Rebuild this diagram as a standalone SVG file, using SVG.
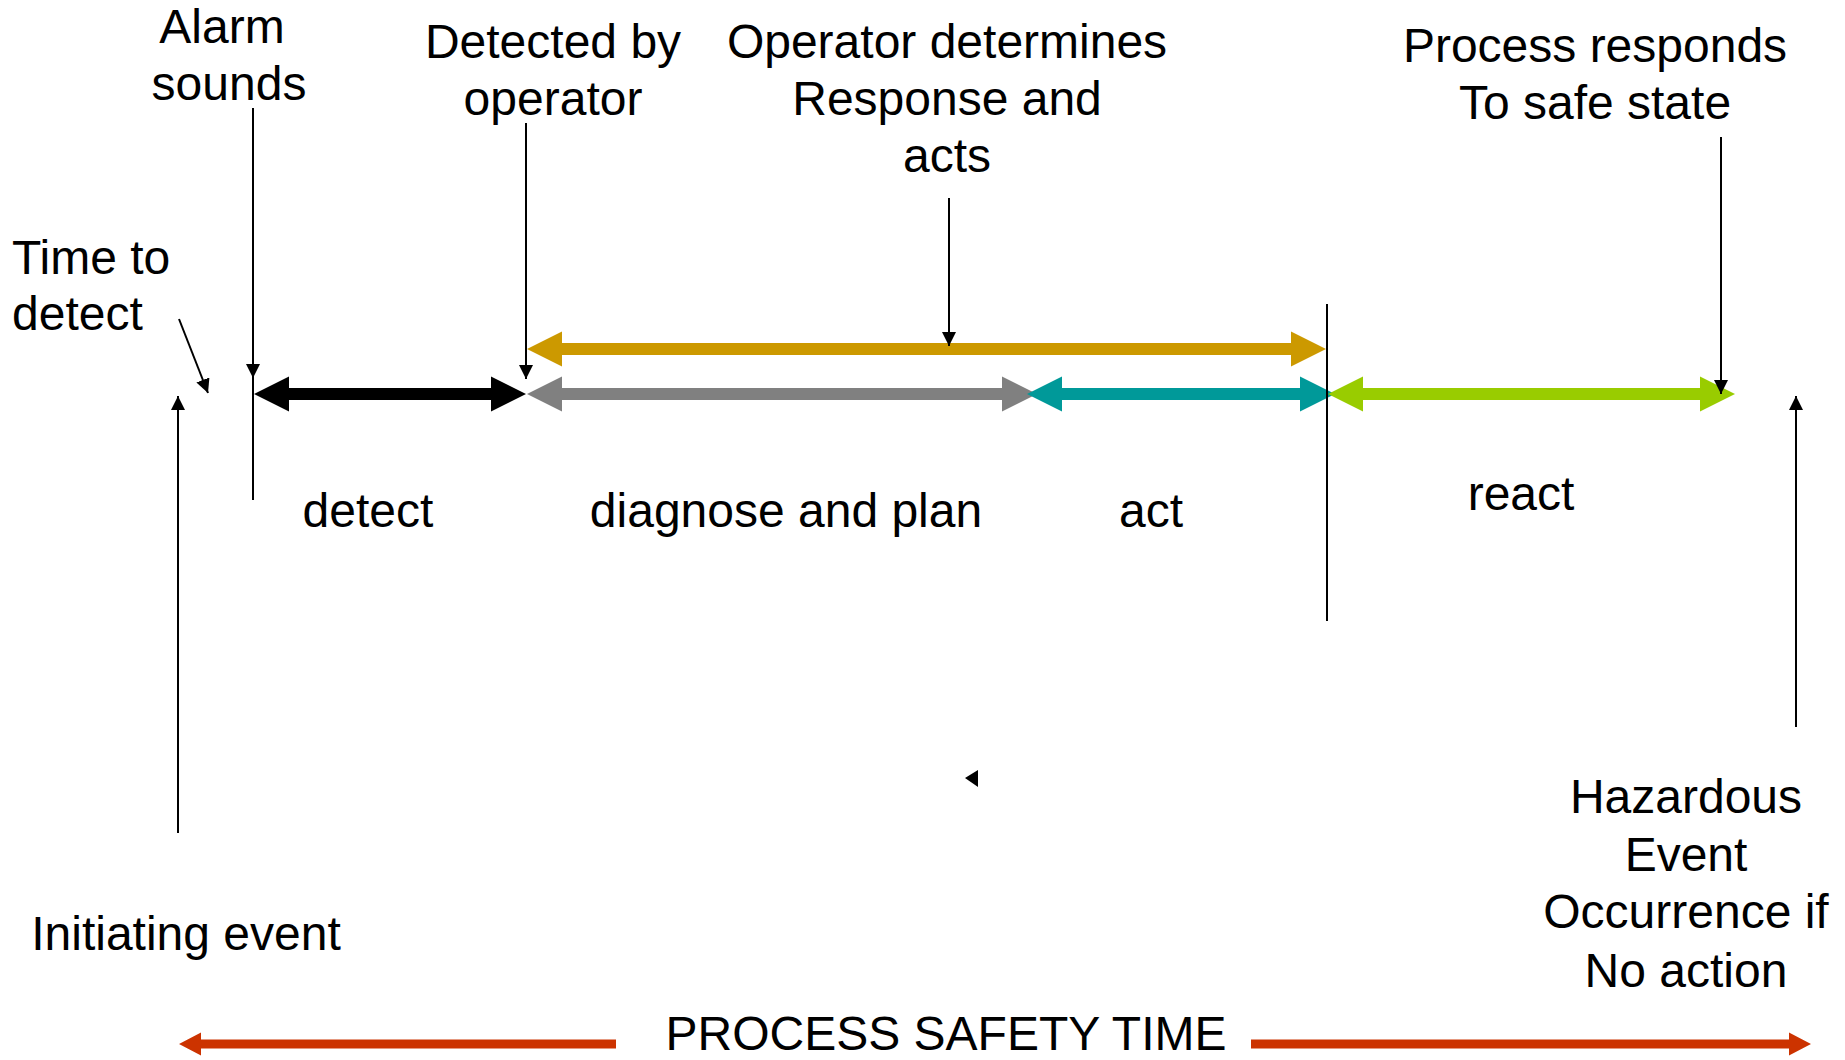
<svg xmlns="http://www.w3.org/2000/svg" width="1845" height="1060" viewBox="0 0 1845 1060">
<defs>
<marker id="ah" markerUnits="userSpaceOnUse" markerWidth="15" markerHeight="15" refX="14" refY="7" orient="auto">
<path d="M0,0 L14,7 L0,14 z" fill="#000"/>
</marker>
<style>
.t{font-family:"Liberation Sans",Arial,sans-serif;font-size:48px;fill:#000;text-anchor:middle}
.l{text-anchor:start}
.thin{stroke:#000;stroke-width:2;fill:none}
</style>
</defs>
<rect width="1845" height="1060" fill="#fff"/>
<g id="connectors">
<polygon id="gold" fill="#CC9900" points="527,349 562,331.5 562,343 1291,343 1291,331.5 1326,349 1291,366.5 1291,355 562,355 562,366.5"/>
<polygon id="black" fill="#000" points="254,394 289,376.5 289,388 491,388 491,376.5 526,394 491,411.5 491,400 289,400 289,411.5"/>
<polygon id="gray" fill="#808080" points="527,394 562,376.5 562,388 1002,388 1002,376.5 1037,394 1002,411.5 1002,400 562,400 562,411.5"/>
<polygon id="teal" fill="#009999" points="1027,394 1062,376.5 1062,388 1300,388 1300,376.5 1335,394 1300,411.5 1300,400 1062,400 1062,411.5"/>
<polygon id="green" fill="#99CC00" points="1328,394 1363,376.5 1363,388 1700,388 1700,376.5 1735,394 1700,411.5 1700,400 1363,400 1363,411.5"/>
<line class="thin" x1="1327" y1="304" x2="1327" y2="621"/>
<line class="thin" x1="253" y1="108" x2="253" y2="378" marker-end="url(#ah)"/>
<line class="thin" x1="253" y1="378" x2="253" y2="500"/>
<line class="thin" x1="526" y1="123" x2="526" y2="379" marker-end="url(#ah)"/>
<line class="thin" x1="179" y1="319" x2="208" y2="393" marker-end="url(#ah)"/>
<line class="thin" x1="178" y1="833" x2="178" y2="396" marker-end="url(#ah)"/>
<line class="thin" x1="949" y1="198" x2="949" y2="346" marker-end="url(#ah)"/>
<line class="thin" x1="1721" y1="137" x2="1721" y2="394" marker-end="url(#ah)"/>
<line class="thin" x1="1796" y1="727" x2="1796" y2="396" marker-end="url(#ah)"/>
<polygon id="stray" fill="#000" points="965,778 978,770 978,787"/>
<polygon id="pst-left" fill="#CC3300" points="179,1044 201,1032.5 201,1039.5 616,1039.5 616,1048.5 201,1048.5 201,1055.5"/>
<polygon id="pst-right" fill="#CC3300" points="1811,1044 1789,1032.5 1789,1039.5 1251,1039.5 1251,1048.5 1789,1048.5 1789,1055.5"/>
</g>
<g id="alarm"><text class="t" x="222" y="43">Alarm</text><text class="t" x="229" y="100">sounds</text></g>
<g id="detected"><text class="t" x="553" y="58">Detected by</text><text class="t" x="553" y="115">operator</text></g>
<g id="operator"><text class="t" x="947" y="58">Operator determines</text><text class="t" x="947" y="115">Response and</text><text class="t" x="947" y="172">acts</text></g>
<g id="process"><text class="t" x="1595" y="62">Process responds</text><text class="t" x="1595" y="119">To safe state</text></g>
<g id="timetodetect"><text class="t l" x="12" y="274">Time to</text><text class="t l" x="12" y="330">detect</text></g>
<g id="phase-detect"><text class="t" x="368" y="527">detect</text></g>
<g id="phase-diagnose"><text class="t" x="786" y="527">diagnose and plan</text></g>
<g id="phase-act"><text class="t" x="1151" y="527">act</text></g>
<g id="phase-react"><text class="t" x="1521" y="510">react</text></g>
<g id="initiating"><text class="t" x="186" y="950">Initiating event</text></g>
<g id="hazardous"><text class="t" x="1686" y="813">Hazardous</text><text class="t" x="1686" y="871">Event</text><text class="t" x="1686" y="928">Occurrence if</text><text class="t" x="1686" y="987">No action</text></g>
<g id="pst"><text class="t" x="946" y="1050">PROCESS SAFETY TIME</text></g>
</svg>
